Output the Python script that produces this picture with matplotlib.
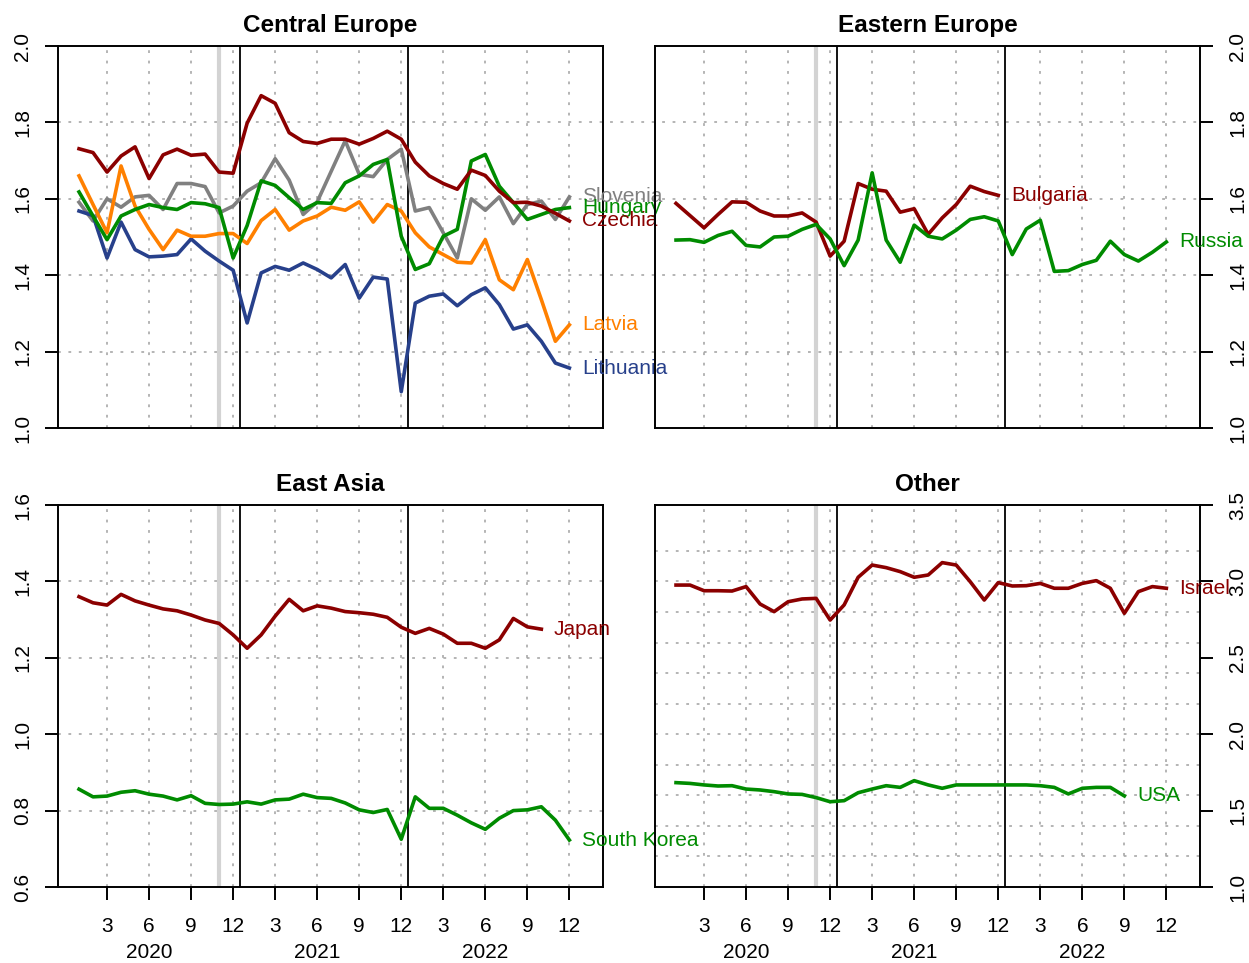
import numpy as np
import matplotlib.pyplot as plt

plt.rcParams['font.family'] = ['Liberation Sans', 'DejaVu Sans']
plt.rcParams['lines.scale_dashes'] = False

# months 1..36 = Jan 2020 .. Dec 2022
tick_months = np.arange(3, 37, 3)
tick_labels = ['3', '6', '9', '12'] * 3
years = ['2020', '2021', '2022']
year_pos = [6, 18, 30]

# Central Europe
czechia = [1.731, 1.721, 1.670, 1.712, 1.736, 1.653, 1.715, 1.730, 1.714, 1.717, 1.670, 1.667,
           1.798, 1.870, 1.850, 1.773, 1.750, 1.745, 1.756, 1.756, 1.743, 1.758, 1.777, 1.756,
           1.696, 1.660, 1.640, 1.625, 1.675, 1.661, 1.620, 1.590, 1.591, 1.581, 1.562, 1.542]
slovenia = [1.591, 1.542, 1.600, 1.578, 1.605, 1.609, 1.572, 1.640, 1.640, 1.632, 1.563, 1.581,
            1.620, 1.642, 1.705, 1.649, 1.559, 1.592, 1.672, 1.752, 1.664, 1.658, 1.703, 1.730,
            1.568, 1.577, 1.511, 1.445, 1.600, 1.570, 1.605, 1.535, 1.585, 1.594, 1.546, 1.605]
hungary = [1.618, 1.555, 1.493, 1.555, 1.572, 1.585, 1.577, 1.572, 1.590, 1.587, 1.577, 1.445,
           1.530, 1.647, 1.635, 1.603, 1.572, 1.590, 1.588, 1.642, 1.660, 1.690, 1.703, 1.502,
           1.415, 1.430, 1.502, 1.520, 1.699, 1.716, 1.633, 1.590, 1.546, 1.559, 1.572, 1.577]
latvia = [1.660, 1.585, 1.511, 1.686, 1.581, 1.520, 1.467, 1.518, 1.502, 1.502, 1.509, 1.509,
          1.483, 1.543, 1.572, 1.518, 1.542, 1.555, 1.578, 1.570, 1.592, 1.539, 1.585, 1.568,
          1.511, 1.474, 1.454, 1.434, 1.432, 1.493, 1.388, 1.362, 1.441, 1.336, 1.227, 1.270]
lithuania = [1.568, 1.556, 1.445, 1.539, 1.467, 1.448, 1.450, 1.454, 1.495, 1.463, 1.437, 1.413,
             1.275, 1.406, 1.423, 1.413, 1.432, 1.415, 1.393, 1.428, 1.340, 1.395, 1.390, 1.095,
             1.327, 1.345, 1.351, 1.320, 1.349, 1.367, 1.323, 1.259, 1.270, 1.227, 1.170, 1.157]

# Eastern Europe
bulgaria = [1.588, 1.556, 1.524, 1.559, 1.592, 1.591, 1.568, 1.555, 1.555, 1.563, 1.539, 1.450,
            1.489, 1.640, 1.625, 1.620, 1.565, 1.574, 1.507, 1.550, 1.585, 1.633, 1.619, 1.609]
russia = [1.492, 1.493, 1.486, 1.504, 1.515, 1.478, 1.474, 1.500, 1.502, 1.520, 1.533, 1.495,
          1.425, 1.492, 1.668, 1.492, 1.434, 1.531, 1.502, 1.495, 1.518, 1.546, 1.553, 1.542,
          1.454, 1.521, 1.544, 1.410, 1.412, 1.428, 1.439, 1.489, 1.454, 1.437, 1.460, 1.487]

# East Asia
japan = [1.360, 1.344, 1.338, 1.366, 1.349, 1.338, 1.328, 1.323, 1.312, 1.299, 1.290, 1.260,
         1.225, 1.260, 1.309, 1.353, 1.323, 1.336, 1.330, 1.321, 1.318, 1.314, 1.306, 1.280,
         1.264, 1.277, 1.262, 1.238, 1.238, 1.225, 1.247, 1.303, 1.281, 1.275]
south_korea = [0.856, 0.836, 0.838, 0.848, 0.852, 0.843, 0.838, 0.828, 0.839, 0.819, 0.816, 0.817,
               0.823, 0.817, 0.828, 0.830, 0.843, 0.834, 0.832, 0.820, 0.802, 0.795, 0.803, 0.725,
               0.836, 0.806, 0.806, 0.788, 0.768, 0.751, 0.780, 0.800, 0.802, 0.810, 0.775, 0.723]

# Other
israel = [2.976, 2.976, 2.939, 2.939, 2.937, 2.966, 2.852, 2.802, 2.867, 2.885, 2.889, 2.747,
          2.846, 3.027, 3.107, 3.090, 3.064, 3.027, 3.042, 3.123, 3.107, 2.998, 2.878, 2.992,
          2.970, 2.972, 2.987, 2.955, 2.955, 2.987, 3.005, 2.955, 2.791, 2.933, 2.966, 2.955]
usa = [1.683, 1.678, 1.668, 1.661, 1.663, 1.641, 1.635, 1.624, 1.609, 1.606, 1.585, 1.558,
       1.565, 1.617, 1.641, 1.663, 1.652, 1.696, 1.668, 1.646, 1.668, 1.668, 1.668, 1.668,
       1.668, 1.668, 1.663, 1.652, 1.609, 1.646, 1.652, 1.652, 1.596]

DARKRED = '#8b0000'
GREEN = '#008b00'
GREY = '#808080'
ORANGE = '#ff8000'
BLUE = '#27408b'
GRIDC = '#a0a0a0'

W, H = 1249, 963
fig = plt.figure(figsize=(W / 100, H / 100), dpi=100)


def rect(left, right, top, bottom):
    return [left / W, 1 - bottom / H, (right - left) / W, (bottom - top) / H]


def panel(r, title, ylim, yticks, side, hgrid, xlabels=False):
    ax = fig.add_axes(r)
    ax.set_facecolor('none')
    ax.set_xlim(-0.5, 38.4)
    ax.set_ylim(*ylim)
    for m in tick_months:
        ax.axvline(m, color=GRIDC, lw=1.1, dashes=(2, 5.5), zorder=1)
    for h in hgrid:
        ax.axhline(h, color=GRIDC, lw=1.1, dashes=(2, 5.5), zorder=1)
    ax.axvline(11, color='#d3d3d3', lw=3, zorder=1.5)
    ax.axvline(12.5, color='black', lw=1.3, zorder=1.6)
    ax.axvline(24.5, color='black', lw=1.3, zorder=1.6)
    ax.set_title(title, fontsize=17.5, fontweight='bold', pad=10)

    ax.set_yticks(yticks)
    ax.set_yticklabels([f'{v:.1f}' for v in yticks])
    if side == 'right':
        ax.yaxis.tick_right()
        ax.tick_params(axis='y', pad=11)
    else:
        ax.tick_params(axis='y', pad=9)
    ax.tick_params(axis='y', length=9.4, width=1.4, labelsize=15, labelrotation=90)
    for lab in ax.get_yticklabels():
        lab.set_va('center')

    if xlabels:
        ax.set_xticks(tick_months)
        ax.set_xticklabels(tick_labels)
        ax.tick_params(axis='x', length=9.4, width=1.4, labelsize=15, pad=12.5)
        for yr, pos in zip(years, year_pos):
            ax.annotate(yr, xy=(pos, 0), xycoords=('data', 'axes fraction'),
                        xytext=(0, -40.5), textcoords='offset points',
                        ha='center', va='top', fontsize=15)
    else:
        ax.set_xticks([])
    for s in ax.spines.values():
        s.set_linewidth(1.4)
    return ax


def draw(ax, values, color, name):
    x = np.arange(1, len(values) + 1)
    ax.plot(x, values, color=color, lw=2.6, zorder=3, solid_joinstyle='round')
    ax.text(x[-1] + 0.9, values[-1], name, color=color, fontsize=15,
            ha='left', va='center', clip_on=False, zorder=4)


# Central Europe
ax1 = panel(rect(58, 603, 46, 428), 'Central Europe', (1.0, 2.0),
            np.arange(1.0, 2.01, 0.2), 'left', [])
for h in [1.2, 1.4, 1.6, 1.8]:
    ax1.axhline(h, xmin=0, xmax=(1200 - 58) / 545, color=GRIDC, lw=1.1,
                dashes=(2, 5.5), zorder=1, clip_on=False)
draw(ax1, slovenia, GREY, 'Slovenia')
draw(ax1, lithuania, BLUE, 'Lithuania')
draw(ax1, latvia, ORANGE, 'Latvia')
draw(ax1, hungary, GREEN, 'Hungary')
draw(ax1, czechia, DARKRED, 'Czechia')

# Eastern Europe
ax2 = panel(rect(655, 1200, 46, 428), 'Eastern Europe', (1.0, 2.0),
            np.arange(1.0, 2.01, 0.2), 'right', [])
draw(ax2, bulgaria, DARKRED, 'Bulgaria')
draw(ax2, russia, GREEN, 'Russia')

# East Asia
ax3 = panel(rect(58, 603, 505, 887), 'East Asia', (0.6, 1.6),
            np.arange(0.6, 1.61, 0.2), 'left', [0.8, 1.0, 1.2, 1.4, 1.6], xlabels=True)
draw(ax3, japan, DARKRED, 'Japan')
draw(ax3, south_korea, GREEN, 'South Korea')

# Other
ax4 = panel(rect(655, 1200, 505, 887), 'Other', (1.0, 3.5),
            np.arange(1.0, 3.51, 0.5), 'right', np.arange(1.2, 3.21, 0.2), xlabels=True)
draw(ax4, israel, DARKRED, 'Israel')
draw(ax4, usa, GREEN, 'USA')

fig.savefig('out.png', dpi=100)
